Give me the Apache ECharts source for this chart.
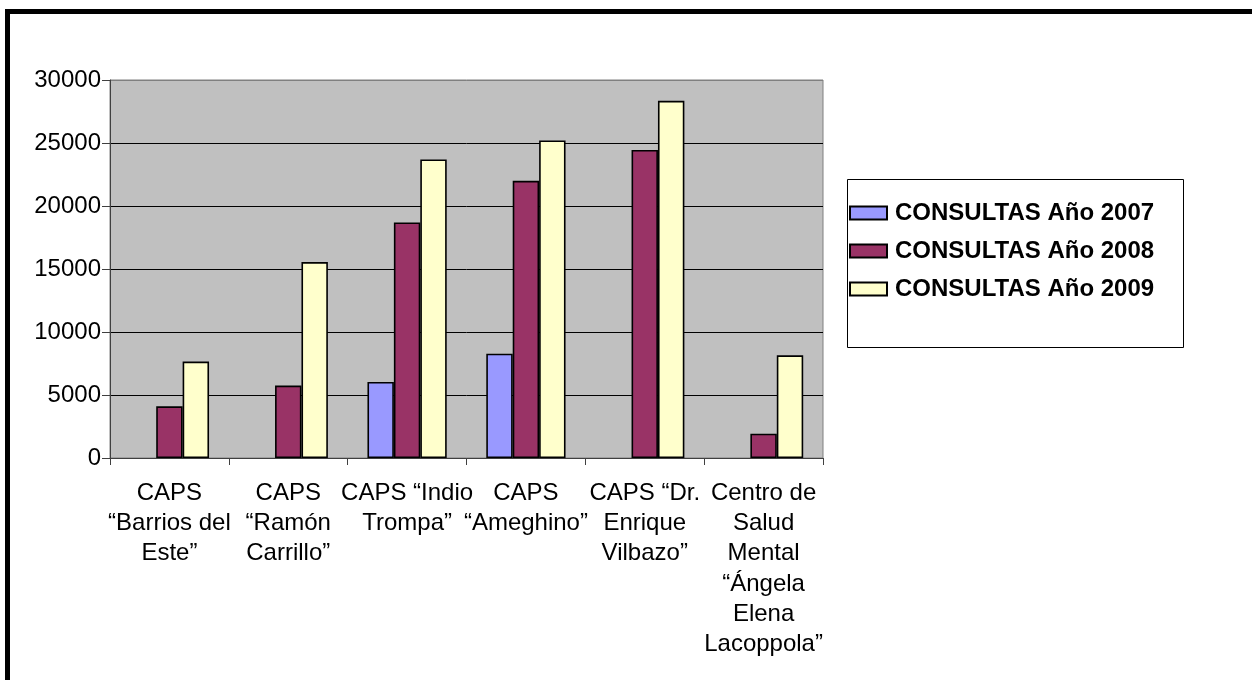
<!DOCTYPE html>
<html>
<head>
<meta charset="utf-8">
<script src="https://cdn.jsdelivr.net/npm/echarts@6/dist/echarts.min.js"></script>
<style>
html,body{margin:0;padding:0;background:#fff;}
#chart{width:1252px;height:680px;}
</style>
</head>
<body>
<div id="chart"></div>
<script>
var categories = [
  'CAPS\n\u201cBarrios del\nEste\u201d',
  'CAPS\n\u201cRam\u00f3n\nCarrillo\u201d',
  'CAPS \u201cIndio\nTrompa\u201d',
  'CAPS\n\u201cAmeghino\u201d',
  'CAPS \u201cDr.\nEnrique\nVilbazo\u201d',
  'Centro de\nSalud\nMental\n\u201c\u00c1ngela\nElena\nLacoppola\u201d'
];
var seriesNames = ['CONSULTAS A\u00f1o 2007', 'CONSULTAS A\u00f1o 2008', 'CONSULTAS A\u00f1o 2009'];
var s2007 = [null, null, 6030, 8280, null, null];
var s2008 = [4100, 5750, 18700, 22000, 24450, 1930];
var s2009 = [7650, 15550, 23700, 25200, 28350, 8150];
var yTicks = { min: 0, max: 30000, interval: 5000 };

var colors = ['#9999FF', '#993366', '#FFFFCC'];
var FONT = "'Liberation Sans', Arial, sans-serif";

var chart = echarts.init(document.getElementById('chart'));
function mk(name, data, color) {
  return {
    name: name, type: 'bar', data: data,
    barGap: '0%', barCategoryGap: '33.3%',
    itemStyle: { color: color, borderColor: '#000', borderWidth: 1.6 },
    emphasis: { disabled: true }
  };
}
chart.setOption({
  animation: false,
  textStyle: { fontFamily: FONT },
  graphic: [
    { type: 'rect', shape: { x: 7.5, y: 11.5, width: 1400, height: 900 },
      style: { fill: 'none', stroke: '#000', lineWidth: 5 }, z: 0 },
    { type: 'rect', shape: { x: 847.5, y: 179.5, width: 336, height: 168 },
      style: { fill: '#fff', stroke: '#000', lineWidth: 1 }, z: 0 }
  ],
  legend: {
    orient: 'vertical', left: 849, top: 201, padding: 0,
    itemWidth: 37, itemHeight: 13, itemGap: 14, icon: 'rect',
    textStyle: { fontFamily: FONT, fontSize: 24, fontWeight: 'bold', color: '#000', padding: [0, 0, 0, 3] },
    data: seriesNames, z: 10
  },
  grid: {
    left: 110, top: 80, width: 713, height: 378, show: true,
    backgroundColor: '#C0C0C0', borderColor: '#808080', borderWidth: 1
  },
  xAxis: {
    type: 'category', data: categories,
    axisLine: { lineStyle: { color: '#404040', width: 1 } },
    axisTick: { show: true, length: 7, alignWithLabel: false, lineStyle: { color: '#404040' } },
    axisLabel: { interval: 0, hideOverlap: false, margin: 20, fontSize: 24, lineHeight: 30.3,
      color: '#000', fontFamily: FONT, align: 'center' }
  },
  yAxis: {
    type: 'value', min: yTicks.min, max: yTicks.max, interval: yTicks.interval,
    axisLine: { show: true, lineStyle: { color: '#404040', width: 1 } },
    axisTick: { show: true, length: 8, lineStyle: { color: '#404040' } },
    axisLabel: { margin: 9, fontSize: 24, color: '#000', fontFamily: FONT,
      formatter: function (v) { return String(v); } },
    splitLine: { show: true, lineStyle: { color: ['#000', '#000', '#000', '#000', '#000', '#000', '#808080'], width: 1 } }
  },
  series: [mk(seriesNames[0], s2007, colors[0]), mk(seriesNames[1], s2008, colors[1]), mk(seriesNames[2], s2009, colors[2])]
});
</script>
</body>
</html>
